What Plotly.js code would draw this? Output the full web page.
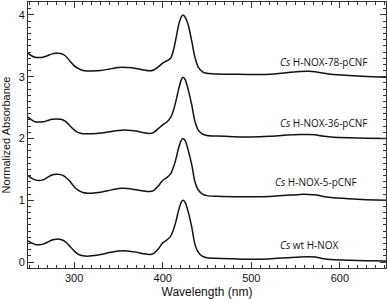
<!DOCTYPE html>
<html>
<head>
<meta charset="utf-8">
<script src="https://cdn.plot.ly/plotly-3.0.1.min.js"></script>
<style>html,body{margin:0;padding:0;background:#fff;}#chart{width:387px;height:299px;}</style>
</head>
<body>
<div id="chart"></div>
<script>
// Wavelength grid (nm)
const wavelength = [248,252,256,260,265,270,275,280,285,290,295,300,305,310,315,320,330,340,350,360,370,378,385,390,395,400,405,409,412,415,418,421,423,425.5,429,433,436,440,445,450,460,480,500,520,540,555,565,572,580,590,610,630,652];

// Normalized absorbance (before vertical offset)
const wt = [0.34,0.31,0.285,0.28,0.29,0.32,0.355,0.37,0.365,0.33,0.26,0.18,0.125,0.10,0.095,0.10,0.12,0.155,0.18,0.18,0.16,0.135,0.12,0.14,0.21,0.31,0.36,0.42,0.52,0.66,0.84,0.97,1.00,0.96,0.80,0.55,0.31,0.16,0.09,0.07,0.06,0.052,0.045,0.05,0.068,0.082,0.086,0.08,0.058,0.04,0.028,0.022,0.016];
const pCNF5 = [0.40,0.36,0.33,0.32,0.33,0.37,0.41,0.42,0.415,0.38,0.31,0.22,0.16,0.125,0.115,0.115,0.13,0.16,0.19,0.19,0.17,0.15,0.14,0.16,0.23,0.32,0.37,0.43,0.53,0.67,0.85,0.97,1.00,0.96,0.80,0.56,0.32,0.17,0.10,0.075,0.065,0.058,0.055,0.06,0.08,0.095,0.095,0.09,0.065,0.045,0.025,0.01,0.0];
const pCNF36 = [0.345,0.30,0.27,0.265,0.27,0.29,0.31,0.315,0.31,0.28,0.21,0.14,0.095,0.078,0.075,0.078,0.09,0.11,0.13,0.135,0.12,0.095,0.08,0.10,0.16,0.22,0.27,0.34,0.45,0.61,0.80,0.95,0.99,0.95,0.78,0.53,0.30,0.14,0.07,0.05,0.04,0.03,0.025,0.035,0.055,0.065,0.065,0.06,0.04,0.025,0.012,0.005,0.0];
const pCNF78 = [0.38,0.34,0.315,0.31,0.315,0.34,0.37,0.38,0.375,0.34,0.26,0.18,0.13,0.10,0.092,0.092,0.10,0.125,0.15,0.15,0.135,0.11,0.095,0.11,0.16,0.22,0.26,0.30,0.42,0.62,0.84,0.97,1.00,0.96,0.83,0.56,0.34,0.16,0.08,0.055,0.045,0.04,0.035,0.04,0.065,0.085,0.088,0.08,0.06,0.04,0.02,0.005,-0.01];

const offsets = [0, 1, 2, 3];
const seriesData = [wt, pCNF5, pCNF36, pCNF78];
const labels = ["<i>Cs</i> wt H-NOX", "<i>Cs</i> H-NOX-5-pCNF", "<i>Cs</i> H-NOX-36-pCNF", "<i>Cs</i> H-NOX-78-pCNF"];
const labelX = [566, 573, 582, 582];
const labelY = [0.275, 1.30, 2.25, 3.24];

const traces = seriesData.map((s, i) => ({
  x: wavelength,
  y: s.map(v => v + offsets[i]),
  mode: 'lines',
  line: {color: '#111', width: 1.5, shape: 'spline', smoothing: 0.6},
  hoverinfo: 'skip',
  showlegend: false
}));

const annotations = labels.map((t, i) => ({
  x: labelX[i], y: labelY[i], xref: 'x', yref: 'y', text: t, showarrow: false,
  font: {family: 'Open Sans, Noto Sans, sans-serif', size: 10, color: '#111'}
}));

const axisCommon = {
  showline: true, mirror: 'ticks', linecolor: '#333', linewidth: 1,
  ticks: 'inside', ticklen: 6, tickwidth: 1, tickcolor: '#333',
  showgrid: false, zeroline: false,
  tickfont: {family: 'Liberation Sans, Arial, sans-serif', size: 11, color: '#111'}
};

const layout = {
  width: 387, height: 299,
  margin: {l: 28, r: 1, t: 2, b: 31},
  paper_bgcolor: '#fff', plot_bgcolor: '#fff',
  xaxis: Object.assign({}, axisCommon, {
    range: [248, 652], dtick: 100, tick0: 0,
    minor: {dtick: 10, ticks: 'inside', ticklen: 3, tickcolor: '#333', showgrid: false},
    title: {text: 'Wavelength (nm)', font: {family: 'Liberation Sans, Arial, sans-serif', size: 12, color: '#111'}, standoff: 6}
  }),
  yaxis: Object.assign({}, axisCommon, {
    range: [-0.097, 4.21], dtick: 1, tick0: 0,
    minor: {dtick: 0.1, ticks: 'inside', ticklen: 3, tickcolor: '#333', showgrid: false},
    title: {text: 'Normalized Absorbance', font: {family: 'Liberation Sans, Arial, sans-serif', size: 11, color: '#111'}, standoff: 5}
  }),
  annotations: annotations
};

Plotly.newPlot('chart', traces, layout, {displayModeBar: false, staticPlot: true});
</script>
</body>
</html>
